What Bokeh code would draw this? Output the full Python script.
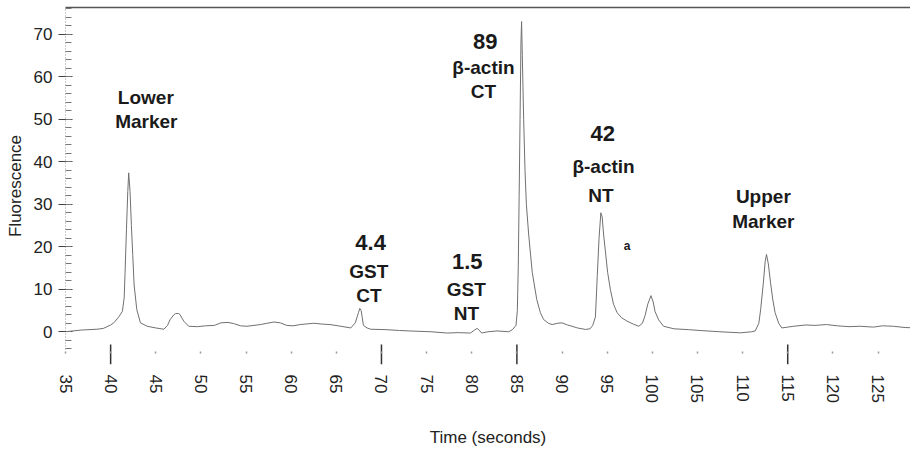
import math
from bokeh.plotting import figure
from bokeh.models import Range1d, LinearAxis, FixedTicker, SingleIntervalTicker
from bokeh.core.properties import value
from bokeh.embed import file_html
from bokeh.resources import INLINE

# ---- data ----
time_s = [35.0, 36.7, 38.5, 39.2, 40.0, 40.35, 40.9, 41.3, 41.5, 41.6, 41.75, 41.9, 42.0, 42.15,
          42.3, 42.45, 42.6, 42.9, 43.3, 44.05, 45.0, 45.9, 46.3, 46.6, 47.0, 47.2, 47.5, 47.66,
          48.1, 48.65, 49.6, 50.5, 51.5, 52.2, 53.0, 53.6, 54.4, 55.1, 56.6, 57.3, 58.1, 58.8,
          59.5, 60.2, 61.0, 62.5, 63.5, 64.3, 65.5, 66.6, 67.1, 67.45, 67.6, 67.75, 68.0, 68.4,
          68.8, 70.5, 72.0, 73.6, 75.5, 77.3, 78.5, 79.85, 80.3, 80.6, 80.9, 81.1, 81.8, 82.8,
          84.1, 84.5, 84.9, 85.05, 85.15, 85.25, 85.35, 85.45, 85.52, 85.6, 85.75, 85.9, 86.05,
          86.3, 86.7, 87.2, 87.6, 87.95, 88.5, 88.9, 89.5, 90.0, 90.6, 91.1, 91.7, 92.6, 93.1,
          93.4, 93.7, 93.9, 94.1, 94.3, 94.45, 94.6, 94.8, 95.05, 95.35, 95.7, 96.1, 96.6, 97.2,
          97.9, 98.5, 98.9, 99.2, 99.5, 99.85, 100.1, 100.3, 100.7, 101.25, 102.4, 104.0, 105.3,
          107.5, 109.75, 111.0, 111.4, 111.8, 112.0, 112.3, 112.5, 112.65, 112.85, 113.1, 113.35,
          113.6, 114.0, 114.35, 115.0, 115.65, 117.0, 118.0, 119.3, 120.5, 121.8, 123.0, 124.5,
          125.5, 126.7, 128.0, 129.3]
fluorescence = [0.0, 0.4, 0.6, 0.8, 1.6, 2.1, 3.5, 4.8, 8.0, 14.0, 24.0, 33.0, 37.4, 33.0,
                25.0, 18.0, 11.0, 5.2, 2.1, 1.3, 0.9, 0.6, 1.5, 2.9, 4.0, 4.3, 4.3, 4.1,
                2.5, 1.3, 1.2, 1.4, 1.5, 2.1, 2.2, 1.95, 1.4, 1.3, 1.7, 2.0, 2.3, 2.1,
                1.5, 1.4, 1.7, 2.0, 1.8, 1.7, 1.3, 0.9, 2.1, 4.5, 5.5, 5.0, 1.5, 0.9,
                0.6, 0.5, 0.3, 0.15, 0.0, -0.3, -0.2, -0.3, 0.4, 0.8, 0.2, -0.3, 0.0, 0.2,
                0.0, 0.5, 1.5, 5.0, 15.0, 32.0, 50.0, 68.0, 73.0, 65.0, 50.0, 38.0, 30.0,
                23.0, 14.0, 7.6, 4.5, 2.9, 2.0, 1.7, 2.0, 2.1, 1.6, 1.3, 0.9, 0.55, 0.7,
                1.5, 3.5, 13.0, 22.0, 28.0, 27.0, 23.0, 19.0, 14.0, 10.0, 6.5, 4.5, 3.3, 2.5,
                1.8, 1.3, 2.0, 3.8, 6.5, 8.5, 7.0, 4.8, 2.8, 1.3, 0.7, 0.5, 0.3,
                0.0, -0.25, 0.0, 0.2, 2.0, 5.2, 11.5, 16.5, 18.2, 16.0, 11.5, 7.5,
                4.5, 2.0, 0.9, 1.1, 1.3, 1.6, 1.5, 1.7, 1.4, 1.2, 1.3, 1.1,
                1.4, 1.3, 1.0, 0.9]

x_tick_labels = [35, 40, 45, 50, 55, 60, 65, 70, 75, 80, 85, 90, 95, 100, 105, 110, 115, 120, 125]
marker_ticks = [40, 70, 85, 115]

number_text = ["4.4", "1.5", "89", "42"]
name_text = ["Lower", "Marker", "GST", "CT", "GST", "NT", "\u03b2-actin", "CT",
             "\u03b2-actin", "NT", "Upper", "Marker"]

# label placement (data coordinates)
number_x = [68.8, 79.5, 81.5, 94.5]
number_y = [21.0, 16.5, 68.4, 46.6]
name_x = [43.9, 43.95, 68.6, 68.6, 79.4, 79.4, 81.3, 81.3, 94.6, 94.3, 112.3, 112.3]
name_y = [55.2, 49.5, 14.2, 8.6, 10.0, 4.3, 62.2, 56.6, 38.8, 32.1, 31.9, 26.0]

FONT = "Liberation Sans"
Y_LO, Y_HI = -7.7, 76.3

p = figure(width=910, height=449, x_range=Range1d(35, 128.6), y_range=Range1d(Y_LO, Y_HI),
           output_backend="svg", toolbar_location=None, x_axis_location=None,
           min_border_left=65, min_border_right=0, min_border_top=7, min_border_bottom=0)
p.outline_line_color = None
p.grid.grid_line_color = None
p.background_fill_color = "white"

# y axis (stops a little below zero)
ya = p.yaxis[0]
ya.ticker = SingleIntervalTicker(interval=10, num_minor_ticks=5)
ya.bounds = (-4.2, Y_HI)
ya.axis_line_color = "#999999"
ya.axis_line_dash = "1 2"
ya.major_tick_in = 7
ya.major_tick_out = 7
ya.major_tick_line_color = "#444444"
ya.minor_tick_in = 6
ya.minor_tick_out = 0
ya.minor_tick_line_color = "#777777"
ya.major_label_text_font = FONT
ya.major_label_text_font_size = "17px"
ya.major_label_text_color = "#222222"
ya.major_label_standoff = 6
ya.axis_label = "Fluorescence"
ya.axis_label_text_font = FONT
ya.axis_label_text_font_style = "normal"
ya.axis_label_text_font_size = "17px"
ya.axis_label_text_color = "#222222"
ya.axis_label_standoff = 6

# x axis: small dot marks above it, rotated labels and title
ax = LinearAxis(ticker=FixedTicker(ticks=x_tick_labels, minor_ticks=[]),
                axis_line_color=None,
                major_tick_in=13, major_tick_out=-11, major_tick_line_width=1.5,
                major_tick_line_color="#999999", minor_tick_line_color=None,
                major_label_orientation=-math.pi / 2,
                major_label_text_font=FONT, major_label_text_font_size="17px",
                major_label_text_color="#222222", major_label_standoff=10,
                axis_label="Time (seconds)", axis_label_text_font=FONT,
                axis_label_text_font_style="normal", axis_label_text_font_size="17px",
                axis_label_text_color="#222222", axis_label_standoff=22)
p.add_layout(ax, "below")

# long marks at the marker times, hanging below the trace
tick_top = -3.0
p.segment(x0=marker_ticks, x1=marker_ticks, y0=[tick_top] * len(marker_ticks),
          y1=[Y_LO] * len(marker_ticks), line_color="#333333", line_width=1.5)

# top border line
ax_top = LinearAxis(ticker=FixedTicker(ticks=[], minor_ticks=[]), axis_line_color="#555555",
                    axis_line_width=1.5, major_tick_line_color=None, minor_tick_line_color=None,
                    major_tick_in=0, major_tick_out=0, major_label_standoff=0)
p.add_layout(ax_top, "above")

# trace
p.line(time_s, fluorescence, line_color="#707070", line_width=1)

# annotations
p.text(x=number_x, y=number_y, text=number_text, text_font=value(FONT),
       text_font_style="bold", text_font_size="22px", text_align="center",
       text_baseline="middle", text_color="#1a1a1a")
p.text(x=name_x, y=name_y, text=name_text, text_font=value(FONT),
       text_font_style="bold", text_font_size="19px", text_align="center",
       text_baseline="middle", text_color="#1a1a1a")
p.text(x=[97.2], y=[20.1], text=["a"], text_font=value(FONT), text_font_style="bold",
       text_font_size="12px", text_align="center", text_baseline="middle", text_color="#1a1a1a")

open("out.html", "w").write(file_html(p, INLINE))
